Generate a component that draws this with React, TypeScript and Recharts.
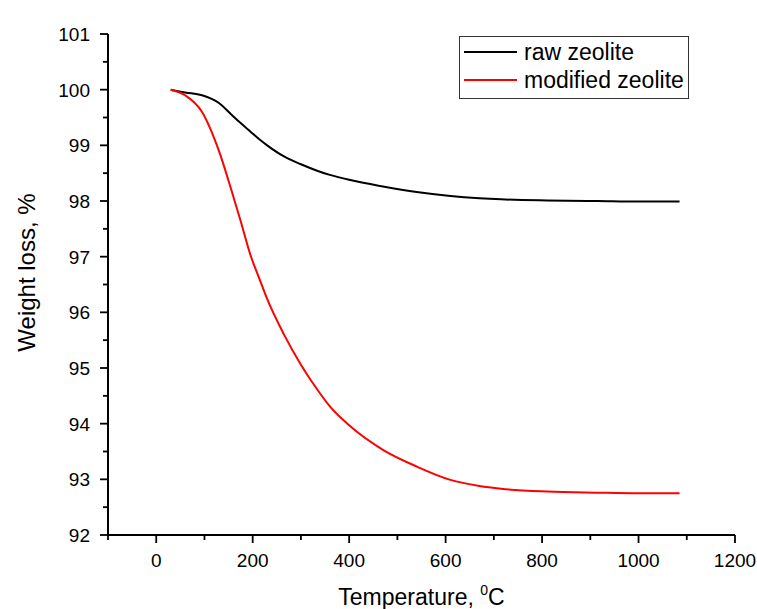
import { Legend, Line, LineChart, XAxis, YAxis } from "recharts";

const FONT = "'Liberation Sans', Arial, sans-serif";

// temperature, °C
const temps = [30, 60, 95, 130, 155, 175, 195, 215, 230, 265, 300, 335, 360, 400, 470, 540, 610, 670, 715, 810, 915, 1000, 1085];
// weight, %
const rawZeolite = [100, 99.95, 99.9, 99.76, 99.56, 99.4, 99.25, 99.1, 99.0, 98.8, 98.66, 98.54, 98.47, 98.38, 98.26, 98.16, 98.09, 98.05, 98.03, 98.01, 98.0, 97.99, 97.99];
const modifiedZeolite = [100, 99.9, 99.6, 98.9, 98.22, 97.64, 97.04, 96.58, 96.24, 95.6, 95.06, 94.6, 94.31, 93.97, 93.53, 93.23, 92.99, 92.88, 92.83, 92.78, 92.76, 92.75, 92.75];

const xTicks = [-100, 0, 100, 200, 300, 400, 500, 600, 700, 800, 900, 1000, 1100, 1200];
const yTicks = [92, 92.5, 93, 93.5, 94, 94.5, 95, 95.5, 96, 96.5, 97, 97.5, 98, 98.5, 99, 99.5, 100, 100.5, 101];

const series = [
  { key: "raw", name: "raw zeolite", color: "#000000" },
  { key: "modified", name: "modified zeolite", color: "#ff0000" },
];

const data = temps.map((t, i) => ({ t, raw: rawZeolite[i], modified: modifiedZeolite[i] }));

function XTick({ x, y, payload }: any) {
  const v = payload.value;
  const major = v % 200 === 0;
  return (
    <g>
      <line x1={x} x2={x} y1={y} y2={y + (major ? 8 : 5)} stroke="#000" strokeWidth={1.8} />
      {major && (
        <text x={x} y={y + 32} textAnchor="middle" fontSize={19} fontFamily={FONT} fill="#000">
          {v}
        </text>
      )}
    </g>
  );
}

function YTick({ x, y, payload }: any) {
  const v = payload.value;
  const major = v % 1 === 0;
  return (
    <g>
      <line x1={x} x2={x - (major ? 8 : 5)} y1={y} y2={y} stroke="#000" strokeWidth={1.8} />
      {major && (
        <text x={x - 18} y={y + 7} textAnchor="end" fontSize={19} fontFamily={FONT} fill="#000">
          {v}
        </text>
      )}
    </g>
  );
}

function LegendBox() {
  return (
    <div
      style={{
        border: "1px solid #333",
        background: "#fff",
        width: 228,
        padding: "1px 0 4px 0",
        fontFamily: FONT,
        fontSize: 23,
        lineHeight: "28px",
      }}
    >
      {series.map((s) => (
        <div key={s.key} style={{ display: "flex", alignItems: "center", height: 28 }}>
          <div style={{ width: 53, height: 2, background: s.color, marginLeft: 4, marginRight: 7 }} />
          <span style={{ color: "#000" }}>{s.name}</span>
        </div>
      ))}
    </div>
  );
}

export default function App() {
  return (
    <div style={{ position: "absolute", left: 0, top: 0, width: 757, height: 609, background: "#fff" }}>
      <LineChart width={757} height={609} data={data} margin={{ top: 34, right: 22, left: 0, bottom: 0 }}>
        <XAxis
          dataKey="t"
          type="number"
          domain={[-100, 1200]}
          ticks={xTicks}
          interval={0}
          height={74}
          tickSize={0}
          tickMargin={0}
          tick={<XTick />}
          axisLine={{ stroke: "#000", strokeWidth: 2 }}
          tickLine={false}
          label={({ viewBox }: any) => (
            <text
              x={viewBox.x + viewBox.width / 2}
              y={viewBox.y + 70}
              textAnchor="middle"
              fontSize={23}
              fontFamily={FONT}
              fill="#000"
            >
              Temperature,{" "}
              <tspan fontSize={14} dy={-10}>
                0
              </tspan>
              <tspan dy={10}>C</tspan>
            </text>
          )}
        />
        <YAxis
          type="number"
          domain={[92, 101]}
          ticks={yTicks}
          interval={0}
          width={108}
          tickSize={0}
          tickMargin={0}
          tick={<YTick />}
          axisLine={{ stroke: "#000", strokeWidth: 2 }}
          tickLine={false}
          label={({ viewBox }: any) => {
            const cx = viewBox.x + 35;
            const cy = viewBox.y + viewBox.height / 2 - 12;
            return (
              <text
                x={cx}
                y={cy}
                transform={`rotate(-90 ${cx} ${cy})`}
                textAnchor="middle"
                fontSize={24}
                fontFamily={FONT}
                fill="#000"
              >
                Weight loss, %
              </text>
            );
          }}
        />
        <Legend
          layout="horizontal"
          align="center"
          verticalAlign="middle"
          content={() => <LegendBox />}
          wrapperStyle={{ position: "absolute", left: 459, top: 36, width: "auto", height: "auto" }}
        />
        {series.map((s) => (
          <Line
            key={s.key}
            dataKey={s.key}
            name={s.name}
            type="monotone"
            stroke={s.color}
            strokeWidth={2}
            dot={false}
            isAnimationActive={false}
          />
        ))}
      </LineChart>
    </div>
  );
}
